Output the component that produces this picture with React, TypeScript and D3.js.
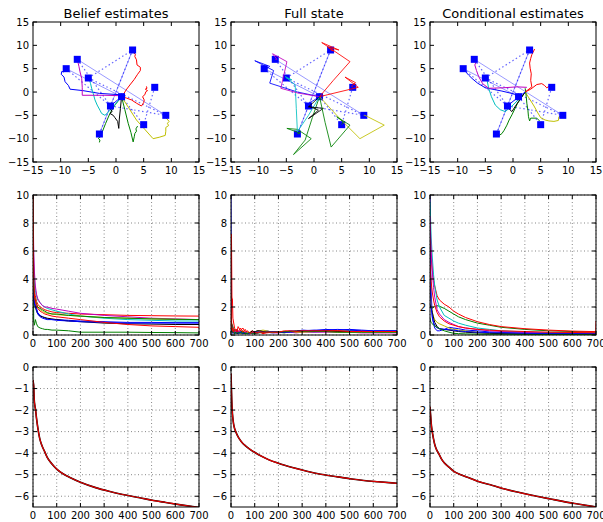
import React from 'react';
import * as d3 from 'd3';

const W = 603, H = 522;
const colX = [33, 231, 430];
const rowY = [22, 195, 367];
const PW = 166, PH = 140;

const COLORS = ['#0000ff', '#008000', '#ff0000', '#00bfbf', '#bf00bf', '#bfbf00', '#000000', '#0000ff', '#008000', '#ff0000'];
const titles = ['Belief estimates', 'Full state', 'Conditional estimates'];

// landmarks
const landmarkX = [-9, -7, -5, 1, -1, 3, 7, 9, 5, -3];
const landmarkY = [5, 7, 3, -1, -3, 9, 1, -5, -7, -9];
const dottedEdges = [[2, 5], [6, 8], [1, 4], [2, 7], [4, 7], [3, 8], [0, 4], [9, 4], [5, 4]];
const faintEdges = [[1, 7], [5, 9], [0, 3]];

// trajectories, in colour order b g r c m y k b g r
const beliefTracks = [
  [[1, -0.6], [-3, -0.3], [-6, 0.3], [-8.3, 0.6], [-8.6, 1.4], [-9.2, 2.2], [-9.4, 3.2], [-9.9, 3.8], [-9.8, 4.4], [-9.4, 4.3], [-9.2, 4.7], [-9, 5]],
  [[1, -1], [-0.2, -2.8], [-1.1, -4.6], [-1.9, -6.8], [-2.6, -8.9], [-2.8, -9.6], [-3.2, -9.9], [-2.9, -10.3], [-3.0, -10.8]],
  [[1.2, -0.8], [1.8, 0.4], [2.5, 1.5], [3.3, 2.7], [3.9, 3.8], [4.4, 4.6], [4.4, 5.3], [3.8, 5.8], [3.7, 6.9], [3.4, 7.6], [3.5, 8.1], [3.1, 8.5], [3.2, 9]],
  [[1, -1], [-0.5, -3.2], [-1.3, -4.2], [-2.0, -5.0], [-2.6, -4.6], [-2.9, -3.9], [-3.4, -2.8], [-3.8, -1.7], [-4.1, -0.4], [-4.4, 0.8], [-4.6, 1.8], [-4.8, 2.6], [-5, 3]],
  [[1, -0.8], [-2, -0.7], [-4, -0.7], [-6.1, -0.7], [-6.1, 1.0], [-6.2, 2.9], [-6.5, 4.3], [-6.7, 5.5], [-6.9, 6.5], [-7, 7]],
  [[1, -1], [2.3, -3.4], [3.7, -6.0], [5.2, -8.0], [6.7, -10.0], [7.8, -9.7], [8.9, -9.3], [9.0, -8.4], [9.0, -7.6], [9.5, -7.2], [9.3, -6.7], [9.6, -6.3], [9, -5.5]],
  [[1, -1], [0.8, -3.5], [0.6, -5.8], [0.5, -7.8], [0.3, -6.3], [-0.2, -5.5], [-0.5, -5.0], [-1.1, -4.6], [-0.7, -4.2], [-1, -3.6], [-0.8, -3.2]],
  [[1, -1], [0, -2], [-1, -3]],
  [[1, -1], [1.6, -3.8], [2.2, -6.7], [2.7, -8.7], [3.1, -10.7], [3.3, -9.6], [3.4, -8.9], [3.7, -8.4], [3.6, -7.9], [3.9, -7.3]],
  [[1, -1], [1.9, -1.3], [2.8, -1.7], [3.7, -2.4], [4.6, -3.0], [5.0, -2.3], [5.1, -1.7], [4.8, -1.0], [5.2, -0.6], [5.4, 0.07], [5.7, 0.3], [5.3, 0.6], [5.6, 0.8], [5.5, 1.2]],
];
const fullTracks = [
  [[1, -1], [-3, 0], [-8.0, 1.9], [-7.3, 4.6], [-10.7, 6.7], [-8.0, 5.5], [-8.9, 4.7], [-9, 5]],
  [[1, -1], [-0.3, -5.5], [-1.6, -10.3], [-3.7, -13.4], [-0.5, -10.0], [-3.0, -8.0], [-4.9, -7.8], [-2.5, -8.8], [-3, -9]],
  [[1, -1], [3.5, 2.5], [6.5, 6.5], [1.4, 10.6], [4.5, 9.0], [2.5, 9.6], [3.5, 8.8], [3, 9]],
  [[1, -1], [-1, -5], [-3.0, -8.5], [-3.2, -3.5], [-3.4, 1.5], [-5.2, 3.3], [-4.0, 2.6], [-5, 3]],
  [[1, -1], [-3, -0.2], [-6.0, 0.8], [-4.9, 6.5], [-7.5, 8.2], [-6.7, 7.0], [-7, 7]],
  [[1, -1], [4.5, -5.5], [8.3, -10.0], [12.7, -7.1], [9.2, -5.0], [9, -5]],
  [[1, -1], [-1.0, -3.2], [1.7, -3.5], [-1.0, -5.7], [0.8, -3.9], [-1, -3]],
  [[1, -1], [-1, -2.5], [-1, -3]],
  [[1, -1], [2, -6.5], [3.1, -11.8], [6.5, -7.1], [4.1, -5.3], [5.3, -6.4], [5, -7]],
  [[1, -1], [8.0, 1.0], [5.6, 3.2], [7.5, 2.0], [6.8, 1.3], [7, 1]],
];
const condTracks = [
  [[1.5, -0.8], [-2.0, 0.2], [-5.0, 0.9], [-6.4, 1.9], [-7.4, 2.9], [-8.0, 3.6], [-8.6, 4.4], [-9, 5]],
  [[2.2, 0], [0.8, -2.5], [-0.2, -4.9], [-0.7, -6.0], [-1.1, -7.1], [-1.6, -8.2], [-2.0, -8.9], [-2.6, -9.4], [-3, -9]],
  [[2.2, 0], [3.4, 1.1], [3.2, 2.5], [3.3, 3.9], [3.1, 5.1], [3.0, 6.2], [3.2, 7.2], [3.4, 8.0], [3.9, 9.2]],
  [[1.5, -1], [0, -2.8], [-1.4, -4.2], [-2.3, -3.8], [-3.2, -2.8], [-3.9, -1.0], [-4.4, 0.8], [-4.7, 2.6], [-4.5, 3.2]],
  [[2.5, 1], [0.7, 1.1], [-1.8, 0.9], [-4.4, 0.8], [-5.5, 1.8], [-6.2, 3.3], [-6.6, 4.6], [-6.9, 5.8], [-6.5, 6.9]],
  [[2.2, 0], [3.0, -1.5], [3.8, -3.0], [4.4, -4.3], [5.0, -5.5], [5.8, -6.0], [6.5, -6.2], [7.4, -6.3], [8.2, -6.1], [8.3, -5.3], [9.5, -4.6]],
  [[2.2, 0], [1.0, -2.0], [-0.2, -4.2], [-0.8, -3.5], [-0.5, -3.0]],
  [[2.2, 0], [0, -2], [-1, -3]],
  [[2.2, 0.8], [2.4, -1.0], [2.5, -2.4], [2.7, -4.0], [2.8, -5.3], [3.0, -6.2], [3.2, -5.6], [4.3, -5.6], [4.8, -6.2]],
  [[2.2, 0], [3.2, 0.6], [4.3, 1.6], [5.2, 1.8], [5.7, 1.4], [6.1, 0.9], [6.9, 1.5], [7.5, 1.5]],
];

// error curves (middle row)
const beliefErrX = [0, 3, 6, 10, 15, 20, 30, 40, 50, 60, 80, 100, 150, 200, 300, 400, 500, 600, 700];
const beliefErr = [
  [10, 3.5, 2.5, 2.2, 1.9, 1.6, 1.4, 1.3, 1.2, 1.15, 1.1, 1.1, 1.05, 1.0, 0.95, 0.9, 0.9, 0.88, 0.88],
  [10, 1.0, 0.7, 1.1, 0.8, 0.6, 0.5, 0.45, 0.4, 0.4, 0.35, 0.35, 0.3, 0.2, 0.2, 0.2, 0.18, 0.17, 0.15],
  [10, 4, 3.2, 2.8, 2.4, 2.2, 2.0, 1.9, 1.8, 1.75, 1.65, 1.6, 1.55, 1.5, 1.45, 1.4, 1.38, 1.36, 1.35],
  [10, 5, 3.8, 3.2, 2.8, 2.5, 2.3, 2.1, 2.0, 1.9, 1.8, 1.7, 1.5, 1.35, 1.2, 1.1, 1.05, 1.0, 1.0],
  [10, 6, 4.5, 3.5, 2.9, 2.6, 2.3, 2.1, 2.0, 2.0, 1.9, 1.85, 1.7, 1.55, 1.4, 1.3, 1.2, 1.15, 1.1],
  [10, 3, 2.6, 2.4, 2.2, 2.0, 1.8, 1.7, 1.6, 1.55, 1.5, 1.45, 1.4, 1.35, 1.25, 1.2, 1.15, 1.12, 1.1],
  [10, 2.5, 2.2, 2.0, 1.7, 1.5, 1.35, 1.3, 1.25, 1.2, 1.15, 1.1, 1.0, 0.95, 0.85, 0.8, 0.78, 0.75, 0.75],
  [10, 2.8, 2.3, 2.0, 1.8, 1.5, 1.3, 1.2, 1.15, 1.1, 1.1, 1.05, 1.0, 0.95, 0.9, 0.85, 0.85, 0.85, 0.85],
  [10, 3.2, 2.8, 2.5, 2.2, 2.0, 1.9, 1.8, 1.7, 1.6, 1.5, 1.5, 1.4, 1.35, 1.25, 1.2, 1.15, 1.12, 1.1],
  [10, 3.6, 2.8, 2.4, 2.1, 1.9, 1.7, 1.6, 1.5, 1.45, 1.35, 1.3, 1.2, 1.1, 0.9, 0.75, 0.65, 0.6, 0.55],
];
const fullErrX = [0, 2, 4, 6, 8, 10, 15, 20, 25, 30, 40, 50, 60, 70, 80, 90, 100, 110, 120, 135, 150, 175, 200, 225, 250, 275, 300, 350, 400, 450, 500, 550, 600, 650, 700];
const fullErr = [
  [10, 0.6, 0.3, 0.7, 0.4, 0.2, 0.3, 0.1, 0.4, 0.2, 0.3, 0.2, 0.1, 0.2, 0.15, 0.1, 0.2, 0.25, 0.3, 0.25, 0.3, 0.2, 0.25, 0.2, 0.3, 0.25, 0.35, 0.3, 0.4, 0.35, 0.4, 0.35, 0.3, 0.3, 0.3],
  [3, 0.5, 0.8, 0.3, 0.6, 0.2, 0.4, 0.1, 0.3, 0.15, 0.2, 0.3, 0.1, 0.2, 0.1, 0.2, 0.15, 0.1, 0.2, 0.15, 0.25, 0.2, 0.2, 0.15, 0.25, 0.2, 0.3, 0.25, 0.3, 0.25, 0.3, 0.25, 0.25, 0.2, 0.25],
  [2, 7.2, 2.7, 2.6, 1.2, 1.0, 0.5, 0.3, 0.4, 0.2, 0.5, 0.2, 0.4, 0.1, 0.2, 0.3, 0.1, 0.2, 0.2, 0.1, 0.15, 0.2, 0.2, 0.25, 0.25, 0.2, 0.3, 0.25, 0.3, 0.3, 0.25, 0.3, 0.2, 0.25, 0.2],
  [2, 0.4, 0.3, 0.5, 0.2, 0.3, 0.2, 0.1, 0.2, 0.1, 0.2, 0.1, 0.15, 0.1, 0.1, 0.15, 0.2, 0.15, 0.2, 0.25, 0.2, 0.15, 0.2, 0.2, 0.2, 0.25, 0.25, 0.2, 0.25, 0.2, 0.2, 0.2, 0.2, 0.2, 0.2],
  [2.5, 0.8, 0.4, 0.2, 0.4, 0.2, 0.3, 0.2, 0.1, 0.3, 0.2, 0.1, 0.2, 0.1, 0.1, 0.2, 0.15, 0.1, 0.2, 0.2, 0.2, 0.15, 0.15, 0.2, 0.2, 0.15, 0.2, 0.2, 0.2, 0.2, 0.2, 0.15, 0.15, 0.15, 0.15],
  [1.5, 0.3, 0.2, 0.4, 0.2, 0.1, 0.2, 0.1, 0.1, 0.2, 0.1, 0.1, 0.1, 0.2, 0.1, 0.15, 0.2, 0.3, 0.3, 0.35, 0.3, 0.2, 0.2, 0.2, 0.25, 0.2, 0.2, 0.25, 0.25, 0.2, 0.2, 0.2, 0.2, 0.2, 0.2],
  [1.2, 0.4, 0.5, 0.2, 0.3, 0.2, 0.1, 0.2, 0.1, 0.1, 0.2, 0.1, 0.1, 0.1, 0.15, 0.3, 0.2, 0.3, 0.3, 0.25, 0.2, 0.25, 0.2, 0.2, 0.25, 0.3, 0.3, 0.3, 0.3, 0.25, 0.25, 0.25, 0.25, 0.25, 0.25],
  [2.2, 0.5, 0.2, 0.3, 0.1, 0.2, 0.2, 0.1, 0.3, 0.1, 0.2, 0.1, 0.2, 0.1, 0.1, 0.15, 0.2, 0.2, 0.2, 0.2, 0.2, 0.25, 0.2, 0.2, 0.2, 0.25, 0.3, 0.35, 0.35, 0.4, 0.35, 0.3, 0.3, 0.3, 0.3],
  [1.8, 0.6, 0.3, 0.2, 0.2, 0.3, 0.1, 0.2, 0.1, 0.2, 0.1, 0.2, 0.1, 0.1, 0.2, 0.1, 0.1, 0.15, 0.15, 0.2, 0.2, 0.2, 0.2, 0.25, 0.25, 0.25, 0.25, 0.25, 0.25, 0.2, 0.2, 0.2, 0.2, 0.2, 0.2],
  [2.6, 1.2, 0.4, 0.3, 0.5, 0.2, 0.3, 0.4, 0.2, 0.6, 0.3, 0.5, 0.2, 0.3, 0.1, 0.2, 0.2, 0.15, 0.2, 0.2, 0.2, 0.2, 0.2, 0.3, 0.3, 0.25, 0.3, 0.3, 0.3, 0.3, 0.25, 0.25, 0.25, 0.25, 0.25],
];
const condErrX = [0, 2, 5, 10, 15, 20, 30, 40, 60, 80, 100, 120, 150, 200, 250, 300, 400, 500, 600, 699, 700];
const condErr = [
  [10, 6, 3, 1.3, 0.8, 0.5, 0.3, 0.3, 0.4, 0.55, 0.5, 0.45, 0.35, 0.3, 0.22, 0.18, 0.14, 0.12, 0.1, 0.1, 0.1],
  [2.0, 2.1, 2.0, 1.9, 2.0, 2.05, 2.1, 2.05, 1.9, 1.7, 1.5, 1.3, 1.1, 0.85, 0.7, 0.55, 0.4, 0.3, 0.25, 0.2, 0.2],
  [6.5, 7, 5.5, 4.6, 3.9, 3.5, 2.8, 2.5, 2.2, 2.0, 1.7, 1.5, 1.25, 0.95, 0.75, 0.6, 0.45, 0.35, 0.28, 0.24, 1.0],
  [9.5, 8.5, 7, 5.5, 4.3, 3.5, 2.5, 2.0, 1.4, 1.2, 1.0, 0.85, 0.7, 0.5, 0.4, 0.3, 0.22, 0.18, 0.15, 0.14, 0.14],
  [8.5, 7.5, 6, 4.5, 3.4, 2.7, 1.8, 1.5, 1.1, 0.9, 0.75, 0.6, 0.5, 0.4, 0.3, 0.25, 0.18, 0.14, 0.12, 0.1, 0.1],
  [3.5, 3, 2.2, 1.6, 1.3, 1.1, 0.9, 0.8, 0.65, 0.5, 0.4, 0.35, 0.3, 0.2, 0.15, 0.12, 0.08, 0.06, 0.05, 0.05, 0.05],
  [2.2, 2.0, 1.9, 1.6, 1.2, 0.9, 0.6, 0.45, 0.4, 0.35, 0.3, 0.25, 0.2, 0.15, 0.12, 0.1, 0.08, 0.07, 0.06, 0.06, 0.06],
  [4, 3, 2, 1.2, 0.9, 0.7, 0.5, 0.45, 0.4, 0.38, 0.35, 0.3, 0.25, 0.2, 0.17, 0.15, 0.12, 0.1, 0.1, 0.1, 0.1],
  [1.2, 1.0, 0.9, 0.8, 0.7, 0.65, 0.55, 0.45, 0.3, 0.2, 0.12, 0.1, 0.08, 0.06, 0.05, 0.05, 0.04, 0.04, 0.04, 0.04, 0.04],
  [5, 4.5, 3.8, 3, 2.5, 2.1, 1.6, 1.3, 1.0, 0.8, 0.7, 0.6, 0.5, 0.4, 0.35, 0.3, 0.25, 0.2, 0.18, 0.16, 0.16],
];

// bottom row curves
const logX = [0, 1, 3, 5, 8, 11, 15, 20, 28, 36, 50, 60, 80, 101, 130, 158, 200, 264, 320, 378, 450, 509, 560, 623, 700];
const beliefLog = [-0.6, -0.7, -0.9, -1.5, -1.8, -2.0, -2.4, -2.8, -3.3, -3.6, -3.95, -4.2, -4.5, -4.75, -4.98, -5.14, -5.35, -5.6, -5.77, -5.92, -6.07, -6.2, -6.29, -6.4, -6.52];
const fullLog = [-0.3, -0.7, -1.5, -2.0, -2.4, -2.65, -2.85, -3.0, -3.2, -3.35, -3.55, -3.65, -3.82, -3.97, -4.15, -4.3, -4.47, -4.68, -4.84, -4.98, -5.1, -5.2, -5.27, -5.33, -5.4];
const condLog = [-1.85, -2.0, -2.3, -2.6, -2.9, -3.1, -3.35, -3.6, -3.85, -4.0, -4.3, -4.45, -4.65, -4.85, -5.0, -5.12, -5.3, -5.5, -5.68, -5.83, -6.0, -6.13, -6.24, -6.36, -6.5];

const mapTicks = [-15, -10, -5, 0, 5, 10, 15];
const errTicksY = [0, 2, 4, 6, 8, 10];
const timeTicks = [0, 100, 200, 300, 400, 500, 600, 700];
const logTicksY = [0, -1, -2, -3, -4, -5, -6];

const FONT = 'DejaVu Sans, sans-serif';
const fmt = (v: number) => (v < 0 ? '\u2212' + Math.abs(v) : String(v));

function Axes({ col, row, x, y, xticks, yticks, grid, title, children }: any) {
  const x0 = colX[col], y0 = rowY[row];
  const id = `clip${row}${col}`;
  return (
    <g>
      <defs>
        <clipPath id={id}><rect x={x0} y={y0} width={PW} height={PH} /></clipPath>
      </defs>
      <rect x={x0} y={y0} width={PW} height={PH} fill="#fff" />
      {grid && xticks.map((t: number) => (
        <line key={'gx' + t} x1={x(t)} x2={x(t)} y1={y0} y2={y0 + PH} stroke="#555" strokeWidth={0.7} strokeDasharray="1,2.5" />
      ))}
      {grid && yticks.map((t: number) => (
        <line key={'gy' + t} x1={x0} x2={x0 + PW} y1={y(t)} y2={y(t)} stroke="#555" strokeWidth={0.7} strokeDasharray="1,2.5" />
      ))}
      <g clipPath={`url(#${id})`}>{children}</g>
      {xticks.map((t: number) => (
        <g key={'tx' + t}>
          <line x1={x(t)} x2={x(t)} y1={y0 + PH} y2={y0 + PH - 4} stroke="#000" />
          <line x1={x(t)} x2={x(t)} y1={y0} y2={y0 + 4} stroke="#000" />
          <text x={x(t)} y={y0 + PH + 12} textAnchor="middle" fontSize={10} fontFamily={FONT} fill="#000">{fmt(t)}</text>
        </g>
      ))}
      {yticks.map((t: number) => (
        <g key={'ty' + t}>
          <line x1={x0} x2={x0 + 4} y1={y(t)} y2={y(t)} stroke="#000" />
          <line x1={x0 + PW} x2={x0 + PW - 4} y1={y(t)} y2={y(t)} stroke="#000" />
          <text x={x0 - 4} y={y(t) + 3.6} textAnchor="end" fontSize={10} fontFamily={FONT} fill="#000">{fmt(t)}</text>
        </g>
      ))}
      <rect x={x0} y={y0} width={PW} height={PH} fill="none" stroke="#000" strokeWidth={1} />
      {title && (
        <text x={x0 + PW / 2} y={y0 - 4} textAnchor="middle" fontSize={13} fontFamily={FONT} fill="#000">{title}</text>
      )}
    </g>
  );
}

function MapPanel({ col, tracks, squaresOnTop }: any) {
  const x = d3.scaleLinear().domain([-15, 15]).range([colX[col], colX[col] + PW]);
  const y = d3.scaleLinear().domain([-15, 15]).range([rowY[0] + PH, rowY[0]]);
  const line = d3.line<number[]>().x(d => x(d[0])).y(d => y(d[1]));
  const squares = landmarkX.map((lx, i) => (
    <rect key={'s' + i} x={x(lx) - 3.5} y={y(landmarkY[i]) - 3.5} width={7} height={7} fill="#0000ff" />
  ));
  return (
    <Axes col={col} row={0} x={x} y={y} xticks={mapTicks} yticks={mapTicks} grid={false} title={titles[col]}>
      {faintEdges.map(([a, b], i) => (
        <line key={'f' + i} x1={x(landmarkX[a])} y1={y(landmarkY[a])} x2={x(landmarkX[b])} y2={y(landmarkY[b])} stroke="#0000ff" strokeOpacity={0.4} strokeWidth={1} />
      ))}
      {dottedEdges.map(([a, b], i) => (
        <line key={'d' + i} x1={x(landmarkX[a])} y1={y(landmarkY[a])} x2={x(landmarkX[b])} y2={y(landmarkY[b])} stroke="#0000ff" strokeOpacity={0.6} strokeWidth={1.2} strokeDasharray="1.5,2.5" />
      ))}
      {!squaresOnTop && squares}
      {tracks.map((t: number[][], i: number) => (
        <path key={'t' + i} d={line(t) || ''} fill="none" stroke={COLORS[i]} strokeWidth={1} strokeOpacity={squaresOnTop ? 1 : 0.85} />
      ))}
      {squaresOnTop && squares}
    </Axes>
  );
}

function ErrPanel({ col, xs, series }: any) {
  const x = d3.scaleLinear().domain([0, 700]).range([colX[col], colX[col] + PW]);
  const y = d3.scaleLinear().domain([0, 10]).range([rowY[1] + PH, rowY[1]]);
  const line = d3.line<number>().x((_, i) => x(xs[i])).y(d => y(d));
  return (
    <Axes col={col} row={1} x={x} y={y} xticks={timeTicks} yticks={errTicksY} grid={true}>
      {series.map((s: number[], i: number) => (
        <path key={i} d={line(s) || ''} fill="none" stroke={COLORS[i]} strokeWidth={1} />
      ))}
    </Axes>
  );
}

function LogPanel({ col, vals }: any) {
  const x = d3.scaleLinear().domain([0, 700]).range([colX[col], colX[col] + PW]);
  const y = d3.scaleLinear().domain([-6.5, 0]).range([rowY[2] + PH, rowY[2]]);
  const line = d3.line<number>().x((_, i) => x(logX[i])).y(d => y(d)).curve(d3.curveMonotoneX);
  const d = line(vals) || '';
  return (
    <Axes col={col} row={2} x={x} y={y} xticks={timeTicks} yticks={logTicksY} grid={true}>
      <path d={d} fill="none" stroke="#000" strokeWidth={1.6} />
      <path d={d} fill="none" stroke="#e00000" strokeWidth={1.2} />
    </Axes>
  );
}

export default function App() {
  return (
    <svg width={W} height={H} style={{ position: 'absolute', left: 0, top: 0, background: '#fff' }}>
      <rect width={W} height={H} fill="#fff" />
      <MapPanel col={0} tracks={beliefTracks} squaresOnTop={true} />
      <MapPanel col={1} tracks={fullTracks} squaresOnTop={false} />
      <MapPanel col={2} tracks={condTracks} squaresOnTop={true} />
      <ErrPanel col={0} xs={beliefErrX} series={beliefErr} />
      <ErrPanel col={1} xs={fullErrX} series={fullErr} />
      <ErrPanel col={2} xs={condErrX} series={condErr} />
      <LogPanel col={0} vals={beliefLog} />
      <LogPanel col={1} vals={fullLog} />
      <LogPanel col={2} vals={condLog} />
    </svg>
  );
}
